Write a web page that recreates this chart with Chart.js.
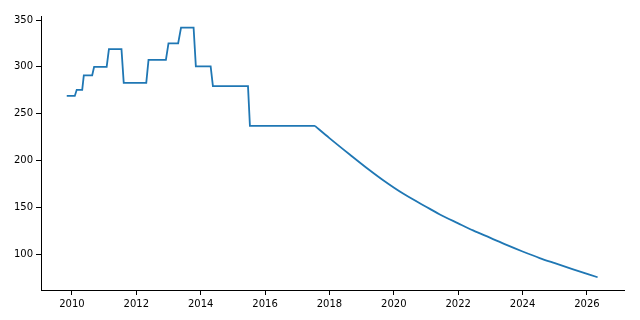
<!DOCTYPE html>
<html>
<head>
<meta charset="utf-8">
<script src="https://cdn.jsdelivr.net/npm/chart.js@4"></script>
<style>
  body { margin: 0; background: #fff; }
  canvas { display: block; }
</style>
</head>
<body>
<canvas id="chart" width="640" height="320"></canvas>
<script>
// Годы (десятичные) — углы ступенек и точки спада
const years = [
  2009.84, 2010.09, 2010.15, 2010.32, 2010.37, 2010.63, 2010.69, 2011.08,
  2011.15, 2011.54, 2011.61, 2012.31, 2012.38, 2012.92, 2013.0, 2013.3,
  2013.39, 2013.78, 2013.85, 2014.31, 2014.38, 2015.47, 2015.53, 2017.55,
  2018.0, 2018.63, 2019.2, 2019.67, 2020.3, 2021.12, 2021.43, 2022.0,
  2022.46, 2023.0, 2023.5, 2024.0, 2024.53, 2025.0, 2025.57, 2026.33,
];
// Значения
const values = [
  269, 269, 275.5, 275.5, 291, 291, 300, 300,
  319, 319, 283, 283, 307.5, 307.5, 325, 325,
  342, 342, 300.5, 300.5, 279.5, 279.5, 237, 237,
  224, 206.5, 191, 179, 164.5, 148.5, 142.5, 133,
  125.5, 117.5, 110, 103, 96, 90.5, 84, 75.5,
];

// Подписи делений
const xTicks = [2010, 2012, 2014, 2016, 2018, 2020, 2022, 2024, 2026];
const yTicks = [100, 150, 200, 250, 300, 350];

// Индекс точки, с которой начинается плавный спад
const curveStart = 23;

const points = years.map((x, i) => ({ x: x, y: values[i] }));
const stepPoints = points.slice(0, curveStart + 1);
const curvePoints = points.slice(curveStart);

const axisFont = { family: "DejaVu Sans", size: 10 };

const lineStyle = {
  borderColor: "#1f77b4",
  borderWidth: 1.8,
  pointRadius: 0,
  fill: false,
};

const ctx = document.getElementById("chart").getContext("2d");
const chart = new Chart(ctx, {
  type: "line",
  data: {
    datasets: [
      { ...lineStyle, data: stepPoints, tension: 0 },
      { ...lineStyle, data: curvePoints, cubicInterpolationMode: "monotone" },
    ],
  },
  options: {
    responsive: false,
    animation: false,
    devicePixelRatio: 1,
    layout: { padding: { top: 16, right: 16, left: 0, bottom: 0 } },
    plugins: {
      legend: { display: false },
      tooltip: { enabled: false },
    },
    scales: {
      x: {
        type: "linear",
        min: 2009.04,
        max: 2027.15,
        afterBuildTicks: (scale) => {
          scale.ticks = xTicks.map((v) => ({ value: v }));
        },
        afterFit: (scale) => {
          scale.height = 30;
        },
        ticks: {
          color: "#000",
          font: axisFont,
          padding: 3,
          maxRotation: 0,
          callback: (v) => String(v),
        },
        grid: {
          drawOnChartArea: false,
          tickLength: 5,
          color: "#000",
        },
        border: { display: true, color: "#000", width: 1 },
      },
      y: {
        type: "linear",
        min: 61.9,
        max: 354.3,
        afterBuildTicks: (scale) => {
          scale.ticks = yTicks.map((v) => ({ value: v }));
        },
        afterFit: (scale) => {
          scale.width = 41;
        },
        ticks: {
          color: "#000",
          font: axisFont,
          padding: 3,
          callback: (v) => String(v),
        },
        grid: {
          drawOnChartArea: false,
          tickLength: 5,
          color: "#000",
        },
        border: { display: true, color: "#000", width: 1 },
      },
    },
  },
});
</script>
</body>
</html>
